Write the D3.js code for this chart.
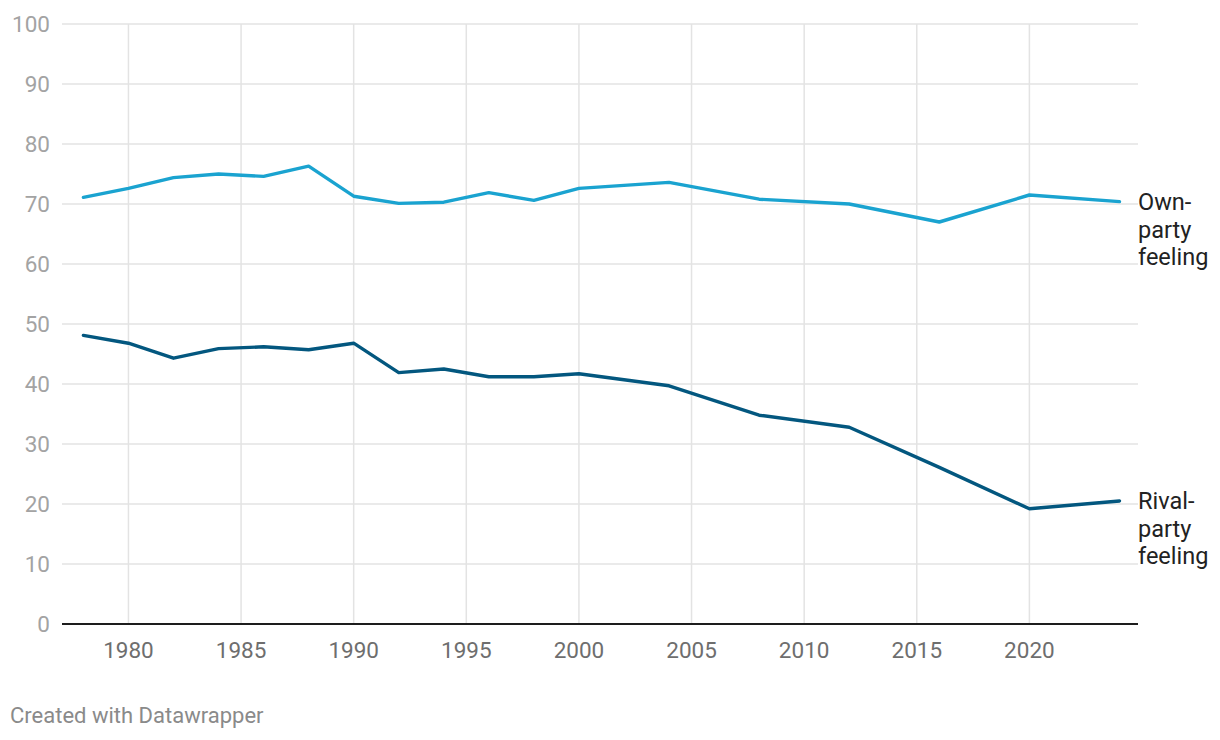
<!DOCTYPE html>
<html>
<head>
<meta charset="utf-8">
<script src="https://cdn.jsdelivr.net/npm/d3@7"></script>
<style>
    body { margin: 0; background: #fff; font-family: Roboto, "Noto Sans", sans-serif; }
    .grid line { stroke: #e3e3e3; stroke-width: 1.5px; }
    .ylab { fill: #a3a3a3; font-size: 22.5px; }
    .xlab { fill: #6e6e6e; font-size: 22.5px; }
    .lbl { fill: #222; font-size: 23.5px; }
</style>
</head>
<body>
<div class="viz"></div>
<script>
// survey years (ANES)
const years = [1978, 1980, 1982, 1984, 1986, 1988, 1990, 1992, 1994, 1996, 1998, 2000, 2004, 2008, 2012, 2016, 2020, 2024];
const ownParty = [71.1, 72.6, 74.4, 75.0, 74.6, 76.3, 71.3, 70.1, 70.3, 71.9, 70.6, 72.6, 73.6, 70.8, 70.0, 67.0, 71.5, 70.4];
const rivalParty = [48.1, 46.8, 44.3, 45.9, 46.2, 45.7, 46.8, 41.9, 42.5, 41.2, 41.2, 41.7, 39.7, 34.8, 32.8, 26.1, 19.2, 20.5];
const xTicks = [1980, 1985, 1990, 1995, 2000, 2005, 2010, 2015, 2020];
const yTicks = [0, 10, 20, 30, 40, 50, 60, 70, 80, 90, 100];
const seriesNames = [["Own-", "party", "feeling"], ["Rival-", "party", "feeling"]];

var width = 1220, height = 740,
    margin = { left: 62, right: 1138, top: 24, bottom: 624 };

var svg = d3.select('.viz').append('svg')
    .attr('width', width)
    .attr('height', height);

var x = d3.scaleLinear().domain([1978, 2024]).range([83.4, 1119.5]);
var y = d3.scaleLinear().domain([0, 100]).range([margin.bottom, margin.top]);

// grid
var grid = svg.append('g').attr('class', 'grid');
grid.selectAll('.hg')
    .data(yTicks.slice(1))
    .enter().append('line')
    .attr('x1', margin.left).attr('x2', margin.right)
    .attr('y1', d => y(d)).attr('y2', d => y(d));
grid.selectAll('.vg')
    .data(xTicks)
    .enter().append('line')
    .attr('x1', d => x(d)).attr('x2', d => x(d))
    .attr('y1', margin.top).attr('y2', margin.bottom);

// y labels
svg.append('g').selectAll('text')
    .data(yTicks)
    .enter().append('text')
    .attr('class', 'ylab')
    .attr('x', 50)
    .attr('y', d => y(d))
    .attr('dy', '0.36em')
    .attr('text-anchor', 'end')
    .text(d => d);

// x labels
svg.append('g').selectAll('text')
    .data(xTicks)
    .enter().append('text')
    .attr('class', 'xlab')
    .attr('x', d => x(d))
    .attr('y', 658)
    .attr('text-anchor', 'middle')
    .text(d => d);

// baseline
svg.append('line')
    .attr('x1', margin.left).attr('x2', margin.right)
    .attr('y1', y(0)).attr('y2', y(0))
    .attr('stroke', '#1d1d1d')
    .attr('stroke-width', 2);

var line = d3.line()
    .x((d, i) => x(years[i]))
    .y(d => y(d));

var colors = ['#1aa3d0', '#03577f'];
[ownParty, rivalParty].forEach(function(vals, k) {
    svg.append('path')
        .datum(vals)
        .attr('d', line)
        .attr('fill', 'none')
        .attr('stroke', colors[k])
        .attr('stroke-width', 3.4)
        .attr('stroke-linejoin', 'round')
        .attr('stroke-linecap', 'round');

    var last = vals[vals.length - 1];
    var t = svg.append('text')
        .attr('class', 'lbl')
        .attr('y', y(last));
    seriesNames[k].forEach(function(s, j) {
        t.append('tspan')
            .attr('x', 1138)
            .attr('dy', j === 0 ? '0.36em' : 27.5)
            .text(s);
    });
});

svg.append('text')
    .attr('x', 10)
    .attr('y', 723)
    .attr('fill', '#8a8a8a')
    .attr('font-size', 22)
    .text('Created with Datawrapper');
</script>
</body>
</html>
